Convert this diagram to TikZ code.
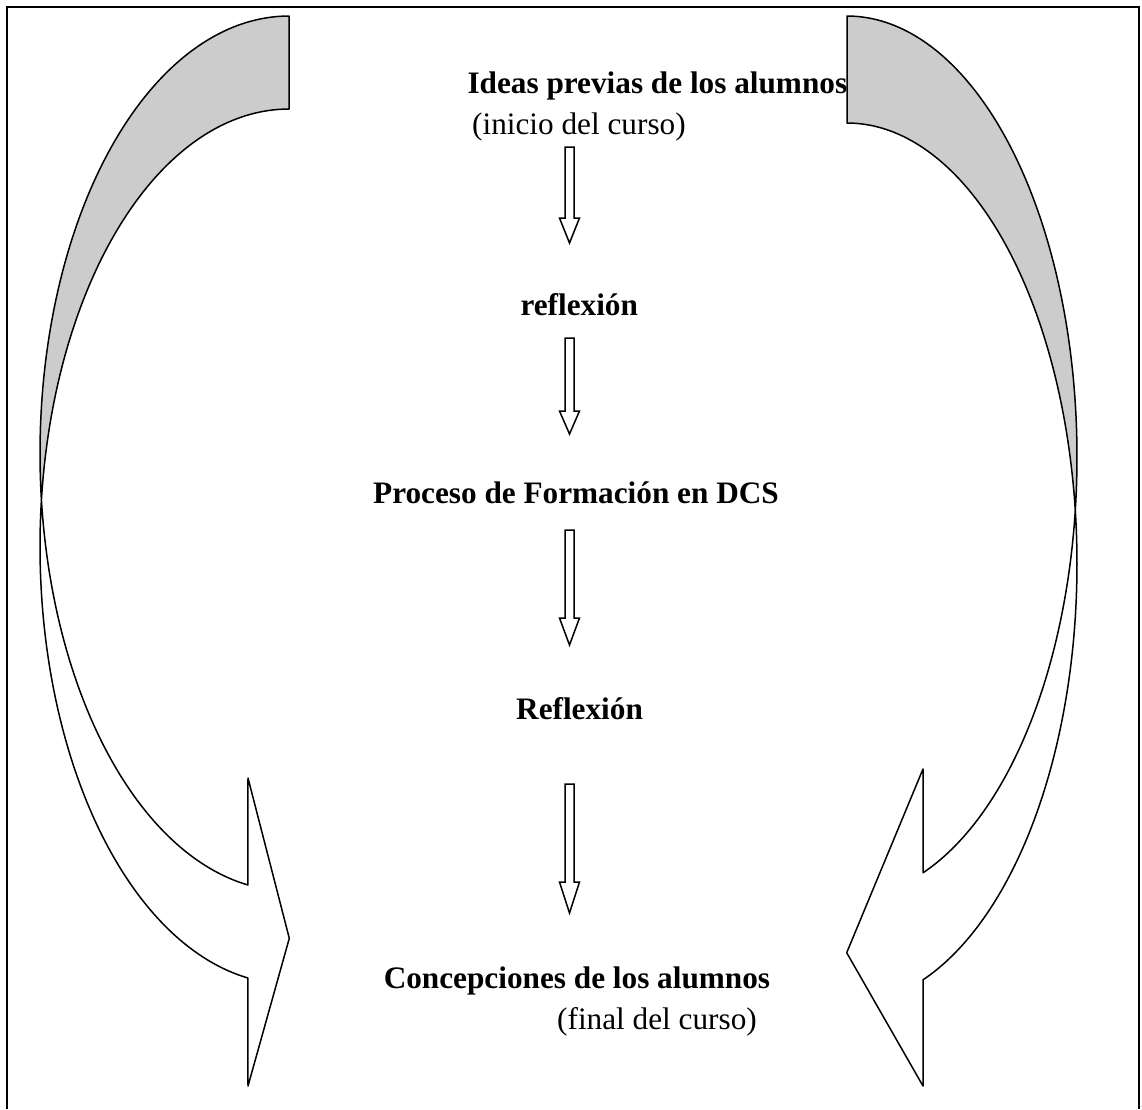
\documentclass[tikz,border=0pt]{standalone}
\usepackage{fontspec}
\setmainfont{Liberation Serif}
\begin{document}
\begin{tikzpicture}[x=0.4pt, y=-0.4pt,
  font=\fontsize{12.5}{15}\selectfont,
  band/.style={draw=black, line width=0.6pt, line join=round},
  back/.style={band, fill=black!20},
  front/.style={band, fill=white},
  title/.style={inner sep=0pt, font=\fontsize{12.5}{15}\selectfont\bfseries, anchor=base west},
  note/.style={inner sep=0pt, anchor=base west},
  flow/.style={draw=black, line width=0.6pt, fill=white, line join=miter},
  frame/.style={line width=0.9pt}]

\useasboundingbox (0,0) rectangle (1142,1109);

% frame
\draw[frame] (7,1109) -- (7,7) -- (1139,7) -- (1139,1109);

% stages of the process
\node[title] (ideas)  at (467,93)    {Ideas previas de los alumnos};
\node[note]  (inicio) at (471.7,134) {(inicio del curso)};
\node[title] (refa)   at (520,315)   {reflexión};
\node[title] (proc)   at (372.7,503) {Proceso de Formación en DCS};
\node[title] (refb)   at (515.7,719) {Reflexión};
\node[title] (conc)   at (383.3,988) {Concepciones de los alumnos};
\node[note]  (final)  at (556.7,1029){(final del curso)};

% hollow block arrows between the stages: #1 = x, #2 = top, #3 = tip, #4 = head length
\newcommand\flowarrow[4]{%
  \draw[flow] (#1-4.5,#2) -- (#1+4.5,#2) -- (#1+4.5,#3-#4) -- (#1+10,#3-#4)
    -- (#1,#3) -- (#1-10,#3-#4) -- (#1-4.5,#3-#4) -- cycle;}
\flowarrow{569.5}{147}{243}{25}
\flowarrow{569.5}{338}{434}{23}
\flowarrow{569.5}{530}{645}{27}
\flowarrow{569.5}{784}{913}{31}

% left curved ribbon arrow: two ellipses, centre x 289, radii 249 x 437.5
\filldraw[back]
  plot[domain=-90:-186.1, samples=90] ({289+249*cos(\x)},{453.5+437.5*sin(\x)})
  -- plot[domain=-173.9:-90, samples=90] ({289+249*cos(\x)},{546.5+437.5*sin(\x)})
  -- cycle;
\filldraw[front]
  plot[domain=173.9:99.5, samples=90] ({289+249*cos(\x)},{453.5+437.5*sin(\x)})
  -- (248,778) -- (289.3,938.3) -- (248,1086)
  -- plot[domain=99.5:186.1, samples=90] ({289+249*cos(\x)},{546.5+437.5*sin(\x)})
  -- cycle;

% right curved ribbon arrow: two ellipses, centre x 847, radii 230 x 440.8
\filldraw[back]
  plot[domain=-90:6.97, samples=90] ({847+230*cos(\x)},{456.8+440.8*sin(\x)})
  -- plot[domain=-6.97:-90, samples=90] ({847+230*cos(\x)},{563.8+440.8*sin(\x)})
  -- cycle;
\filldraw[front]
  plot[domain=6.97:70.7, samples=90] ({847+230*cos(\x)},{456.8+440.8*sin(\x)})
  -- (923,769) -- (846.7,952.7) -- (923,1086)
  -- plot[domain=70.7:-6.97, samples=90] ({847+230*cos(\x)},{563.8+440.8*sin(\x)})
  -- cycle;
\end{tikzpicture}
\end{document}
